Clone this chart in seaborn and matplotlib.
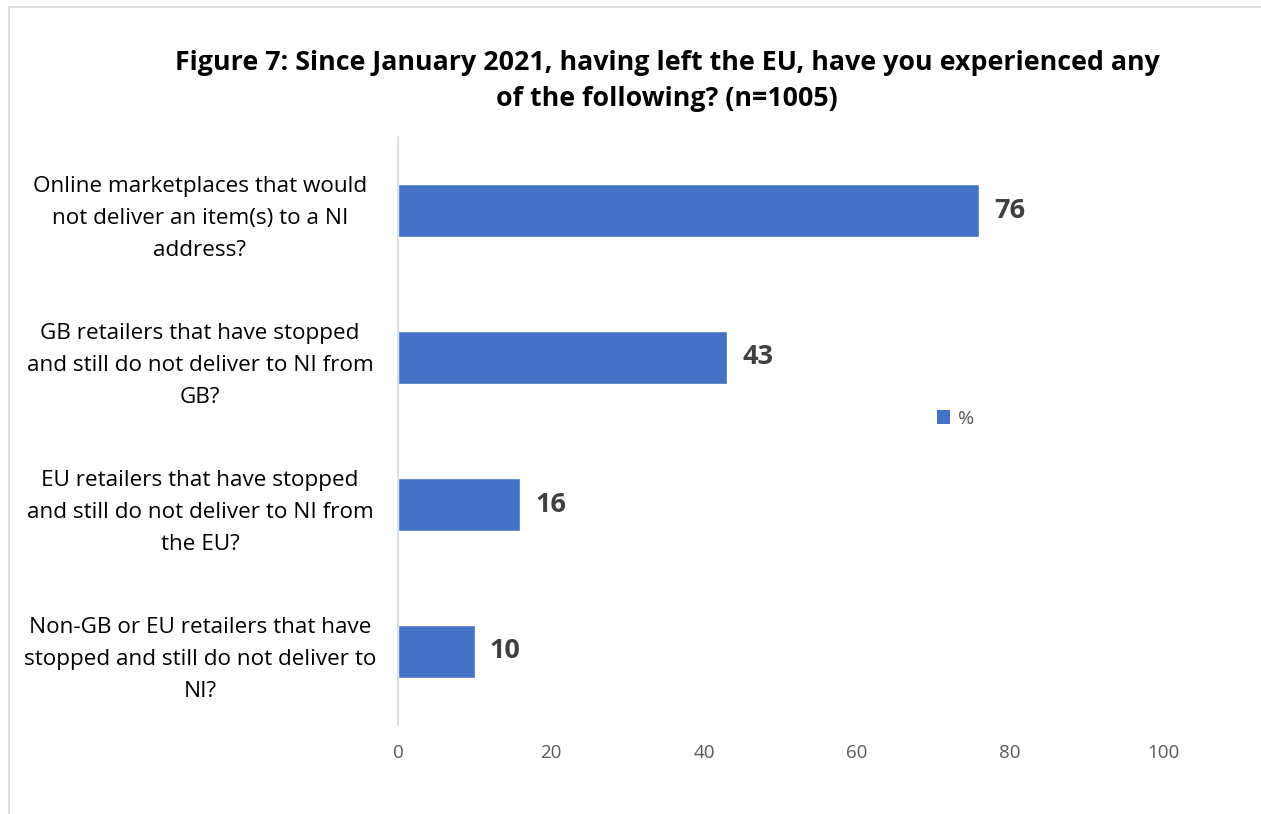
import matplotlib
matplotlib.use("Agg")
import matplotlib.pyplot as plt
import seaborn as sns
import pandas as pd
import matplotlib.transforms as mtransforms
from matplotlib.patches import Rectangle, Patch

categories = [
    "Online marketplaces that would\nnot deliver an item(s) to a NI\naddress?",
    "GB retailers that have stopped\nand still do not deliver to NI from\nGB?",
    "EU retailers that have stopped\nand still do not deliver to NI from\nthe EU?",
    "Non-GB or EU retailers that have\nstopped and still do not deliver to\nNI?",
]
values = [76, 43, 16, 10]
series_name = "%"
x_ticks = [0, 20, 40, 60, 80, 100]
title = "Figure 7: Since January 2021, having left the EU, have you experienced any\nof the following? (n=1005)"

sns.set_theme(style="white")
plt.rcParams['font.family'] = ['Open Sans', 'DejaVu Sans']

df = pd.DataFrame({"category": categories, "value": values})

fig = plt.figure(figsize=(12.61, 8.14), dpi=100)
ax = fig.add_axes([398/1261, 1-725/814, (1163-398)/1261, (725-137)/814])

bar_color = "#4472C4"
sns.barplot(data=df, x="value", y="category", orient="h", color=bar_color,
            width=0.354, ax=ax, saturation=1)

ax.set_xlim(0, 100)
ax.set_ylim(3.5, -0.5)
ax.set_xticks(x_ticks)
ax.set_xticklabels([str(t) for t in x_ticks], color="#595959", fontsize=13.5)
ax.tick_params(axis="x", length=0, pad=14)
ax.tick_params(axis="y", length=0)
ax.set_yticklabels(categories, fontsize=16.2, color="#000000", linespacing=1.68)
ax.set_xlabel("")
ax.set_ylabel("")

offset = mtransforms.ScaledTranslation(-(398-200)/100, 0, fig.dpi_scale_trans)
for lbl in ax.get_yticklabels():
    lbl.set_transform(ax.get_yaxis_transform() + offset)
    lbl.set_horizontalalignment("center")

for s in ["top", "right", "bottom"]:
    ax.spines[s].set_visible(False)
ax.spines["left"].set_color("#D9D9D9")
ax.spines["left"].set_linewidth(1.2)
ax.grid(False)

for i, v in enumerate(values):
    ax.text(v + 2, i, str(v), va="center", ha="left", fontsize=19.5,
            fontweight="bold", color="#404040")

fig.text(667/1261, 1-81/814, title, ha="center", va="center", fontsize=19.3,
         fontweight="bold", color="#000000", linespacing=1.45)

handles = [Patch(facecolor=bar_color, edgecolor="none", label=series_name)]
fig.legend(handles=handles, loc="center left", bbox_to_anchor=(919/1261, 1-419/814),
           frameon=False, fontsize=14, labelcolor="#595959", handlelength=0.7,
           handleheight=0.7, handletextpad=0.4)

fig.patches.append(Rectangle((9/1261, -0.05), 1.2, 1.05-7/814, transform=fig.transFigure,
                             fill=False, edgecolor="#D9D9D9", linewidth=1.2))

fig.savefig("out.png", dpi=100)
